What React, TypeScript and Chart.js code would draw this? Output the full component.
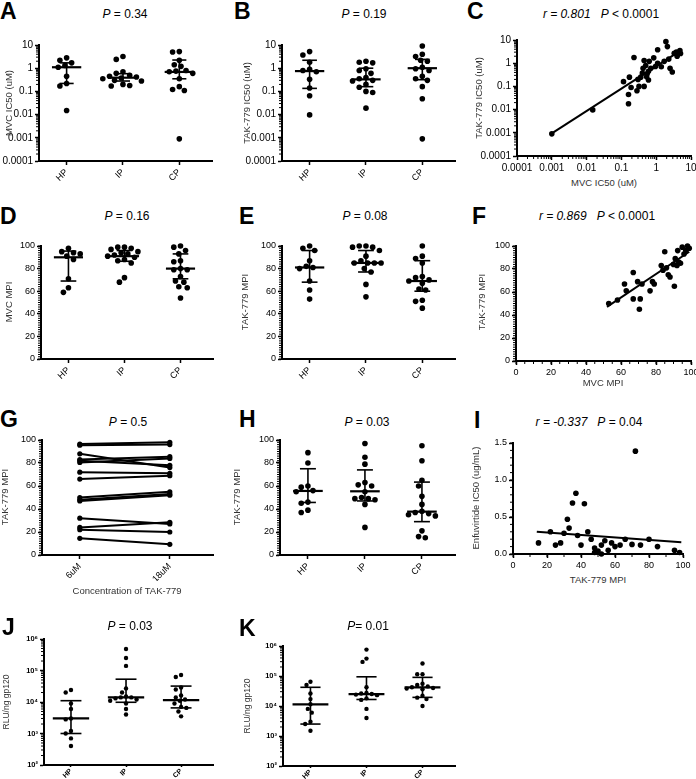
import React, { useEffect, useRef } from "react";
import { Chart, registerables } from "chart.js";

Chart.register(...registerables);

const FONT = '"Liberation Sans", Arial, Helvetica, sans-serif';
Chart.defaults.font.family = FONT;

// ---------------- categories & tick labels ----------------
const GROUPS = ["HP", "IP", "CP"];
const CONC = ["6uM", "18uM"];
const IC50_TICKS = [0.0001, 0.001, 0.01, 0.1, 1, 10];
const IC50_LABELS = ["0.0001", "0.001", "0.01", "0.1", "1", "10"];
const MPI_TICKS = [0, 20, 40, 60, 80, 100];
const MPI_LABELS = ["0", "20", "40", "60", "80", "100"];
const ENF_TICKS = [0, 0.5, 1, 1.5];
const ENF_LABELS = ["0.0", "0.5", "1.0", "1.5"];
const RLU_TICKS = [1e2, 1e3, 1e4, 1e5, 1e6];
const RLU_LABELS = ["10²", "10³", "10⁴", "10⁵", "10⁶"];

// ---------------- A: MVC IC50 (uM) ----------------
const A_HP = [2.8, 2.2, 1.7, 1.3, 1.1, 0.45, 0.22, 0.17, 0.015];
const A_IP = [3.2, 2.4, 0.7, 0.6, 0.5, 0.45, 0.42, 0.38, 0.35, 0.3, 0.28, 0.2, 0.18, 0.17];
const A_CP = [5.2, 5.0, 2.2, 1.4, 1.2, 0.8, 0.75, 0.7, 0.6, 0.35, 0.16, 0.12, 0.11, 0.0009];
const A_MED = [1.1, 0.39, 0.69];
const A_Q1 = [0.22, 0.28, 0.35];
const A_Q3 = [1.7, 0.58, 2.25];

// ---------------- B: TAK-779 IC50 (uM) ----------------
const B_HP = [5.2, 3.7, 1.8, 0.9, 0.8, 0.7, 0.33, 0.14, 0.065, 0.0097];
const B_IP = [2.0, 1.8, 1.7, 0.95, 0.8, 0.6, 0.4, 0.35, 0.3, 0.28, 0.2, 0.15, 0.1, 0.09, 0.019];
const B_CP = [9.0, 4.0, 3.2, 2.2, 2.0, 1.1, 0.95, 0.8, 0.45, 0.35, 0.3, 0.16, 0.048, 0.0009];
const B_MED = [0.75, 0.33, 1.0];
const B_Q1 = [0.135, 0.16, 0.32];
const B_Q3 = [2.2, 1.0, 2.4];

// ---------------- C: MVC IC50 vs TAK-779 IC50 ----------------
const C_X = [0.001, 0.015, 0.115, 0.17, 0.23, 0.19, 0.16, 0.16, 0.28, 0.32, 0.45, 0.36, 0.4, 0.42, 0.5, 0.53, 0.6, 0.6, 0.63, 0.85, 0.95, 1.1, 1.1, 1.7, 1.9, 2.1, 2.5, 2.9, 3.3, 4.0, 4.8, 5.0, 0.7, 0.3, 0.45, 1.4, 2.3, 3.8, 0.55];
const C_Y = [0.0009, 0.0097, 0.16, 0.25, 1.75, 0.09, 0.045, 0.018, 0.065, 0.1, 0.1, 0.25, 0.38, 0.6, 0.8, 0.26, 0.19, 0.45, 1.2, 1.7, 0.72, 1.0, 3.8, 1.2, 8.5, 5.2, 0.6, 0.42, 2.7, 2.0, 3.5, 2.6, 0.6, 0.2, 1.3, 0.7, 1.5, 3.0, 0.35];
const C_FIT_X = [0.001, 5];
const C_FIT_Y = [0.00095, 3.5];

// ---------------- D: MVC MPI ----------------
const D_HP = [98, 95, 94, 93, 91, 88, 71, 63, 59];
const D_IP = [99, 99, 98, 97, 95, 94, 93, 92, 91, 90, 88, 87, 85, 72, 68];
const D_CP = [100, 99, 96, 93, 87, 86, 80, 79, 79, 73, 69, 68, 64, 63, 54];
const D_MED = [90, 91, 80];
const D_Q1 = [69, 86.5, 71];
const D_Q3 = [95.5, 96, 93];

// ---------------- E: TAK-779 MPI ----------------
const E_HP = [100, 98, 96, 87, 82, 81, 80, 69, 61, 53];
const E_IP = [100, 100, 99, 99, 96, 91, 87, 85, 85, 85, 85, 80, 77, 66, 55];
const E_CP = [100, 91, 89, 85, 73, 72, 70, 69, 67, 62, 61, 52, 51, 45];
const E_MED = [81, 85, 69];
const E_Q1 = [68, 77, 60];
const E_Q3 = [96, 96, 87];

// ---------------- F: MVC MPI vs TAK-779 MPI ----------------
const F_X = [53, 58, 62, 63, 67, 69.5, 67, 71, 70.5, 72, 76.6, 78, 79, 83, 85, 84, 86, 87, 88, 90.5, 92.4, 92, 90, 93, 91, 94, 96, 99, 98, 95, 97];
const F_Y = [50, 53, 67, 61, 77, 69, 54, 54, 45, 67, 61, 69, 67, 83, 95, 79, 81, 75, 73, 65, 96, 83, 84, 86, 89, 85, 93, 98, 100, 99, 96];
const F_FIT_X = [52, 99];
const F_FIT_Y = [47, 95];

// ---------------- G: TAK-779 MPI, 6uM vs 18uM ----------------
const G_6UM = [96.5, 95.5, 88, 83, 82, 80.5, 72, 66, 50, 48, 47, 32, 24, 22, 14.5];
const G_18UM = [98, 96, 76, 85.5, 78, 84, 71, 69, 55, 53, 52, 27, 28.5, 20, 9.3];

// ---------------- H: TAK-779 MPI ----------------
const H_HP = [89, 80, 60, 59, 56, 55, 46, 45, 39, 37];
const H_IP = [97, 85, 79, 63, 61, 60, 55, 50, 49, 49, 48, 44, 24];
const H_CP = [95, 82, 65, 60, 51, 44, 38, 37, 36, 35, 34, 21, 16, 15];
const H_MED = [55.7, 55.4, 37.7];
const H_Q1 = [45.7, 47, 29];
const H_Q3 = [75, 74, 63.4];

// ---------------- I: TAK-779 MPI vs Enfuvirtide IC50 ----------------
const I_X = [15, 22, 28, 30, 33, 35, 37, 42, 32, 38, 40, 44, 46, 48, 50, 52, 54, 56, 58, 60, 63, 66, 70, 72, 75, 80, 85, 95, 98, 48, 52, 25];
const I_Y = [0.15, 0.3, 0.15, 0.28, 0.35, 0.69, 0.82, 0.68, 0.47, 0.25, 0.12, 0.3, 0.2, 0.08, 0.04, 0.12, 0.18, 0.05, 0.15, 0.1, 0.12, 0.2, 0.13, 1.39, 0.12, 0.2, 0.1, 0.05, 0.02, 0.02, 0.0, 0.12];
const I_FIT_X = [14, 99];
const I_FIT_Y = [0.3, 0.16];

// ---------------- J: RLU/ng gp120 ----------------
const J_HP = [24000, 20000, 9000, 6000, 3000, 2800, 1200, 1000, 700, 400];
const J_IP = [480000, 250000, 140000, 27000, 20000, 15000, 14000, 14000, 13000, 12000, 11000, 9000, 6000, 4000];
const J_CP = [72000, 62000, 29000, 25000, 16000, 14000, 12000, 11000, 9000, 7000, 6500, 5000, 3500];
const J_MED = [3000, 14000, 11500];
const J_Q1 = [1000, 9800, 6500];
const J_Q3 = [11000, 53000, 32000];

// ---------------- K: RLU/ng gp120 ----------------
const K_HP = [64000, 50000, 26000, 17000, 11500, 8000, 6000, 3000, 2500, 1500];
const K_IP = [760000, 380000, 295000, 42000, 27000, 26000, 25000, 24000, 23000, 18000, 16000, 8000, 4000];
const K_CP = [260000, 115000, 115000, 55000, 50000, 45000, 42000, 40000, 38000, 36000, 22000, 19000, 17000, 10000];
const K_MED = [11400, 25000, 42000];
const K_Q1 = [2500, 16500, 19400];
const K_Q3 = [42000, 94000, 90000];

// ---------------- helpers ----------------
type Axis = {
  type: "linear" | "logarithmic";
  min: number;
  max: number;
  ticks: number[];
  labels: string[];
  minor: number[];
  size: number;
  bold?: boolean;
  rotate?: number;
  tl?: number;
  pad?: number;
};
type Geo = { cx: number; cw: number; L: number; T: number; R: number; B: number; xh: number };
const PAD_T = 8;
const X_MIN = -0.49;
const X_MAX = 2.58;

function logMinor(min: number, max: number): number[] {
  const out: number[] = [];
  for (let e = Math.round(Math.log10(min)); e < Math.round(Math.log10(max)); e++)
    for (let m = 2; m <= 9; m++) out.push(m * Math.pow(10, e));
  return out;
}
function linMinor(min: number, max: number, step: number): number[] {
  const out: number[] = [];
  for (let v = min; v <= max + 1e-9; v += step) out.push(+v.toFixed(6));
  return out;
}

function makeScale(a: Axis, axis: "x" | "y", size: number) {
  return {
    type: a.type,
    position: axis === "x" ? "bottom" : "left",
    min: a.min,
    max: a.max,
    bounds: "data",
    afterBuildTicks: (s: any) => {
      s.ticks = a.ticks.map((v) => ({ value: v }));
    },
    afterFit: (s: any) => {
      if (axis === "x") s.height = size;
      else s.width = size;
    },
    ticks: {
      callback: (_v: any, i: number) => a.labels[i],
      autoSkip: false,
      color: "#000",
      padding: a.pad ?? 2,
      font: { size: a.size, weight: a.bold ? "bold" : "normal", family: FONT },
      minRotation: a.rotate || 0,
      maxRotation: a.rotate || 0,
    },
    grid: {
      display: true,
      drawOnChartArea: false,
      drawTicks: true,
      tickLength: a.tl ?? 4,
      tickWidth: 1.5,
      tickColor: "#000",
      color: "#000",
    },
    border: { display: true, color: "#000", width: 2 },
  };
}

function minorPlugin(yMinor: number[], xMinor: number[]) {
  return {
    id: "minorTicks",
    afterDraw(chart: any) {
      const { ctx, chartArea, scales } = chart;
      ctx.save();
      ctx.strokeStyle = "#000";
      ctx.lineWidth = 1;
      yMinor.forEach((v) => {
        const p = scales.y.getPixelForValue(v);
        ctx.beginPath();
        ctx.moveTo(chartArea.left - 3, p);
        ctx.lineTo(chartArea.left, p);
        ctx.stroke();
      });
      xMinor.forEach((v) => {
        const p = scales.x.getPixelForValue(v);
        ctx.beginPath();
        ctx.moveTo(p, chartArea.bottom);
        ctx.lineTo(p, chartArea.bottom + 3);
        ctx.stroke();
      });
      ctx.restore();
    },
  };
}

function statsPlugin(med: number[], q1: number[], q3: number[], medW: number, capW: number) {
  return {
    id: "medianIqr",
    afterDatasetsDraw(chart: any) {
      const { ctx, scales } = chart;
      const { x, y } = scales;
      ctx.save();
      ctx.strokeStyle = "#000";
      const line = (x1: number, y1: number, x2: number, y2: number, w: number) => {
        ctx.lineWidth = w;
        ctx.beginPath();
        ctx.moveTo(x1, y1);
        ctx.lineTo(x2, y2);
        ctx.stroke();
      };
      med.forEach((m, i) => {
        const cx = x.getPixelForValue(i);
        const hw = x.getPixelForValue(i + medW) - cx;
        const cw = x.getPixelForValue(i + capW) - cx;
        const ym = y.getPixelForValue(m);
        const y1 = y.getPixelForValue(q1[i]);
        const y3 = y.getPixelForValue(q3[i]);
        line(cx, y1, cx, y3, 1.6);
        line(cx - cw, y1, cx + cw, y1, 1.6);
        line(cx - cw, y3, cx + cw, y3, 1.6);
        line(cx - hw, ym, cx + hw, ym, 2.2);
      });
      ctx.restore();
    },
  };
}

function swarm(vals: number[], yPx: (v: number) => number, r: number, unitPerPx: number): number[] {
  const order = vals.map((_, i) => i).sort((a, b) => yPx(vals[a]) - yPx(vals[b]));
  const placed: { x: number; y: number }[] = [];
  const out: number[] = new Array(vals.length).fill(0);
  const d = 2 * r + 0.6;
  const step = r * 0.6;
  for (const i of order) {
    const py = yPx(vals[i]);
    let off = 0;
    for (let k = 0; k < 80; k++) {
      const c = k === 0 ? 0 : (k % 2 === 1 ? -1 : 1) * Math.ceil(k / 2) * step;
      if (placed.every((p) => Math.hypot(p.x - c, p.y - py) >= d)) {
        off = c;
        break;
      }
    }
    placed.push({ x: off, y: py });
    out[i] = off * unitPerPx;
  }
  return out;
}

function baseOptions(g: Geo, xa: Axis, ya: Axis) {
  return {
    responsive: false,
    animation: false,
    events: [],
    layout: { padding: { top: PAD_T, left: 0, right: g.cx + g.cw - g.R, bottom: 0 } },
    plugins: { legend: { display: false }, tooltip: { enabled: false }, title: { display: false } },
    scales: { x: makeScale(xa, "x", g.xh), y: makeScale(ya, "y", g.L - g.cx) },
  };
}

function catAxis(size: number, bold: boolean, tl: number, pad: number): Axis {
  return { type: "linear", min: X_MIN, max: X_MAX, ticks: [0, 1, 2], labels: GROUPS, minor: [], size, bold, rotate: 45, tl, pad };
}

function dotPlot(
  g: Geo,
  ya: Axis,
  groups: number[][],
  med: number[],
  q1: number[],
  q3: number[],
  r: number,
  medW: number,
  capW: number,
  xa: Axis
) {
  const H = g.B - g.T;
  const yPx =
    ya.type === "logarithmic"
      ? (v: number) => ((Math.log10(ya.max) - Math.log10(v)) / (Math.log10(ya.max) - Math.log10(ya.min))) * H
      : (v: number) => ((ya.max - v) / (ya.max - ya.min)) * H;
  const upp = (X_MAX - X_MIN) / (g.R - g.L);
  const datasets = groups.map((vals, gi) => {
    const off = swarm(vals, yPx, r, upp);
    return {
      data: vals.map((v, i) => ({ x: gi + off[i], y: v })),
      pointRadius: r,
      pointBackgroundColor: "#000",
      pointBorderWidth: 0,
      backgroundColor: "#000",
      borderColor: "#000",
      clip: false,
    };
  });
  return {
    type: "scatter",
    data: { datasets },
    options: baseOptions(g, xa, ya),
    plugins: [minorPlugin(ya.minor, []), statsPlugin(med, q1, q3, medW, capW)],
  };
}

function scatterPlot(g: Geo, xa: Axis, ya: Axis, xs: number[], ys: number[], fx: number[], fy: number[], r: number) {
  return {
    type: "scatter",
    data: {
      datasets: [
        {
          data: xs.map((x, i) => ({ x, y: ys[i] })),
          pointRadius: r,
          pointBackgroundColor: "#000",
          pointBorderWidth: 0,
          backgroundColor: "#000",
          borderColor: "#000",
          clip: false,
        },
        {
          data: fx.map((x, i) => ({ x, y: fy[i] })),
          showLine: true,
          borderColor: "#000",
          borderWidth: 2,
          pointRadius: 0,
          clip: false,
        },
      ],
    },
    options: baseOptions(g, xa, ya),
    plugins: [minorPlugin(ya.minor, xa.minor)],
  };
}

function pairedPlot(g: Geo, ya: Axis, a: number[], b: number[]) {
  const xa: Axis = { type: "linear", min: -0.42, max: 1.48, ticks: [0, 1], labels: CONC, minor: [], size: 9, rotate: 45 };
  return {
    type: "scatter",
    data: {
      datasets: a.map((v, i) => ({
        data: [
          { x: 0, y: v },
          { x: 1, y: b[i] },
        ],
        showLine: true,
        borderColor: "#000",
        borderWidth: 2,
        pointRadius: 2.6,
        pointBackgroundColor: "#000",
        pointBorderWidth: 0,
        clip: false,
      })),
    },
    options: baseOptions(g, xa, ya),
    plugins: [minorPlugin(ya.minor, [])],
  };
}

// axes
const ic50Axis = (size: number): Axis => ({ type: "logarithmic", min: 1e-4, max: 10, ticks: IC50_TICKS, labels: IC50_LABELS, minor: logMinor(1e-4, 10), size });
const mpiAxis = (size: number, step: number): Axis => ({ type: "linear", min: 0, max: 100, ticks: MPI_TICKS, labels: MPI_LABELS, minor: linMinor(0, 100, step), size });
const enfAxis: Axis = { type: "linear", min: 0, max: 1.5, ticks: ENF_TICKS, labels: ENF_LABELS, minor: linMinor(0, 1.5, 0.1), size: 9 };
const rluAxis: Axis = { type: "logarithmic", min: 1e2, max: 1e6, ticks: RLU_TICKS, labels: RLU_LABELS, minor: logMinor(1e2, 1e6), size: 7.5, bold: true };

type Spec = { g: Geo; build: () => any };

const PANELS: Spec[] = [
  { g: { cx: 0, cw: 230, L: 39, T: 45, R: 212, B: 161, xh: 22 }, build: () => dotPlot(PANELS[0].g, ic50Axis(10), [A_HP, A_IP, A_CP], A_MED, A_Q1, A_Q3, 2.8, 0.26, 0.125, catAxis(9, false, 4, 2)) },
  { g: { cx: 232, cw: 230, L: 282, T: 45, R: 455, B: 161, xh: 22 }, build: () => dotPlot(PANELS[1].g, ic50Axis(10), [B_HP, B_IP, B_CP], B_MED, B_Q1, B_Q3, 2.8, 0.26, 0.13, catAxis(9, false, 4, 2)) },
  { g: { cx: 464, cw: 238, L: 517, T: 40, R: 691, B: 156, xh: 20 }, build: () => scatterPlot(PANELS[2].g, ic50Axis(10), ic50Axis(10), C_X, C_Y, C_FIT_X, C_FIT_Y, 2.8) },
  { g: { cx: 0, cw: 230, L: 41, T: 246, R: 213, B: 359, xh: 24 }, build: () => dotPlot(PANELS[3].g, mpiAxis(9, 2), [D_HP, D_IP, D_CP], D_MED, D_Q1, D_Q3, 2.8, 0.26, 0.14, catAxis(9, false, 4, 2)) },
  { g: { cx: 232, cw: 230, L: 282, T: 246, R: 455, B: 359, xh: 24 }, build: () => dotPlot(PANELS[4].g, mpiAxis(9, 2), [E_HP, E_IP, E_CP], E_MED, E_Q1, E_Q3, 2.8, 0.26, 0.14, catAxis(9, false, 4, 2)) },
  { g: { cx: 464, cw: 240, L: 516, T: 246, R: 691, B: 361, xh: 20 }, build: () => scatterPlot(PANELS[5].g, mpiAxis(9, 5), mpiAxis(9, 2), F_X, F_Y, F_FIT_X, F_FIT_Y, 2.8) },
  { g: { cx: 0, cw: 230, L: 42, T: 440, R: 213, B: 555, xh: 26 }, build: () => pairedPlot(PANELS[6].g, mpiAxis(9, 2), G_6UM, G_18UM) },
  { g: { cx: 232, cw: 230, L: 280, T: 440, R: 455, B: 555, xh: 26 }, build: () => dotPlot(PANELS[7].g, mpiAxis(9, 2), [H_HP, H_IP, H_CP], H_MED, H_Q1, H_Q3, 2.8, 0.26, 0.14, catAxis(9, false, 4, 2)) },
  { g: { cx: 464, cw: 232, L: 513, T: 443, R: 683, B: 554, xh: 20 }, build: () => scatterPlot(PANELS[8].g, mpiAxis(9, 10), enfAxis, I_X, I_Y, I_FIT_X, I_FIT_Y, 2.8) },
  { g: { cx: 0, cw: 230, L: 44, T: 639, R: 213, B: 765, xh: 14 }, build: () => dotPlot(PANELS[9].g, rluAxis, [J_HP, J_IP, J_CP], J_MED, J_Q1, J_Q3, 2.2, 0.33, 0.19, catAxis(7, true, 2, 0)) },
  { g: { cx: 232, cw: 230, L: 283, T: 646, R: 455, B: 766, xh: 13 }, build: () => dotPlot(PANELS[10].g, rluAxis, [K_HP, K_IP, K_CP], K_MED, K_Q1, K_Q3, 2.2, 0.32, 0.18, catAxis(7, true, 2, 0)) },
];

function ChartCanvas({ spec }: { spec: Spec }) {
  const ref = useRef<HTMLCanvasElement>(null);
  const { g } = spec;
  const top = g.T - PAD_T;
  const h = g.B + g.xh - top;
  useEffect(() => {
    const chart = new Chart(ref.current as HTMLCanvasElement, spec.build());
    return () => chart.destroy();
  }, []);
  return (
    <canvas
      ref={ref}
      width={g.cw}
      height={h}
      style={{ position: "absolute", left: g.cx, top, width: g.cw, height: h }}
    />
  );
}

type TxtProps = { x: number; y: number; size?: number; bold?: boolean; rot?: boolean; left?: boolean; color?: string; children: React.ReactNode };
function Txt({ x, y, size = 12, bold = false, rot = false, left = false, color = "#000", children }: TxtProps) {
  const tf = left ? "translateY(-50%)" : "translate(-50%, -50%)" + (rot ? " rotate(-90deg)" : "");
  return (
    <div
      style={{
        position: "absolute",
        left: x,
        top: y,
        transform: tf,
        fontFamily: FONT,
        fontSize: size,
        fontWeight: bold ? "bold" : "normal",
        lineHeight: 1,
        whiteSpace: "nowrap",
        color,
      }}
    >
      {children}
    </div>
  );
}

const LETTERS: [string, number, number][] = [
  ["A", 0, 10.5], ["B", 234, 10.5], ["C", 467, 10.5],
  ["D", 0, 215.5], ["E", 239, 215.5], ["F", 472, 215.5],
  ["G", 0, 419], ["H", 239, 419], ["I", 474, 420],
  ["J", 2, 627], ["K", 239, 627.5],
];

const TITLE_GRAY = "#333";

export default function App() {
  return (
    <div style={{ position: "absolute", left: 0, top: 0, width: 696, height: 779, overflow: "hidden", background: "#fff" }}>
      {PANELS.map((p, i) => (
        <ChartCanvas key={i} spec={p} />
      ))}
      {LETTERS.map(([t, x, y]) => (
        <Txt key={t} x={x} y={y} size={23} bold left>
          {t}
        </Txt>
      ))}
      {/* panel titles */}
      <Txt x={125} y={14}><i>P</i> = 0.34</Txt>
      <Txt x={364} y={14}><i>P</i> = 0.19</Txt>
      <Txt x={601} y={14}><i>r = 0.801</i>&nbsp;&nbsp;&nbsp;<i>P</i> &lt; 0.0001</Txt>
      <Txt x={127} y={216}><i>P</i> = 0.16</Txt>
      <Txt x={365} y={216}><i>P</i> = 0.08</Txt>
      <Txt x={597} y={216}><i>r = 0.869</i>&nbsp;&nbsp;&nbsp;<i>P</i> &lt; 0.0001</Txt>
      <Txt x={128} y={422}><i>P</i> = 0.5</Txt>
      <Txt x={367} y={422}><i>P</i> = 0.03</Txt>
      <Txt x={589} y={422}><i>r = -0.337</i>&nbsp;&nbsp;&nbsp;<i>P</i> = 0.04</Txt>
      <Txt x={130} y={626}><i>P</i> = 0.03</Txt>
      <Txt x={368} y={626}><i>P</i>= 0.01</Txt>
      {/* y axis titles */}
      <Txt x={9} y={103} size={9.5} rot color={TITLE_GRAY}>MVC IC50 (uM)</Txt>
      <Txt x={247} y={103} size={9.5} rot color={TITLE_GRAY}>TAK-779 IC50 (uM)</Txt>
      <Txt x={479} y={98} size={9.5} rot color={TITLE_GRAY}>TAK-779 IC50 (uM)</Txt>
      <Txt x={9} y={302} size={9.5} rot color={TITLE_GRAY}>MVC MPI</Txt>
      <Txt x={245} y={302} size={9.5} rot color={TITLE_GRAY}>TAK-779 MPI</Txt>
      <Txt x={482} y={302} size={9.5} rot color={TITLE_GRAY}>TAK-779 MPI</Txt>
      <Txt x={5} y={497} size={9.5} rot color={TITLE_GRAY}>TAK-779 MPI</Txt>
      <Txt x={237} y={497} size={9.5} rot color={TITLE_GRAY}>TAK-779 MPI</Txt>
      <Txt x={476} y={498} size={9.5} rot color={TITLE_GRAY}>Enfuvirtide IC50 (ug/mL)</Txt>
      <Txt x={6} y={702} size={8.5} rot color={TITLE_GRAY}>RLU/ng gp120</Txt>
      <Txt x={247} y={706} size={8.5} rot color={TITLE_GRAY}>RLU/ng gp120</Txt>
      {/* x axis titles */}
      <Txt x={604} y={183} size={9.5} color={TITLE_GRAY}>MVC IC50 (uM)</Txt>
      <Txt x={603} y={383} size={9.5} color={TITLE_GRAY}>MVC MPI</Txt>
      <Txt x={127} y={591} size={9.5} color={TITLE_GRAY}>Concentration of TAK-779</Txt>
      <Txt x={598} y={580} size={9.5} color={TITLE_GRAY}>TAK-779 MPI</Txt>
    </div>
  );
}
